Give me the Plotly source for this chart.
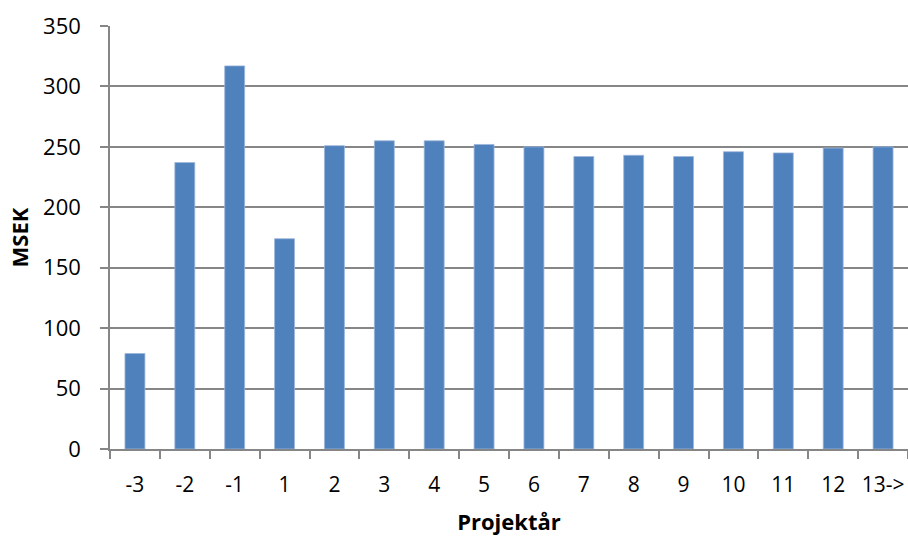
import plotly.graph_objects as go

# Project years and yearly amounts (MSEK)
years = ["-3", "-2", "-1", "1", "2", "3", "4", "5", "6", "7", "8", "9", "10", "11", "12", "13->"]
msek = [79, 237, 317, 174, 251, 255, 255, 252, 250, 242, 243, 242, 246, 245, 249, 250]

y_ticks = [0, 50, 100, 150, 200, 250, 300, 350]

FONT = "Open Sans"
GRID = "#868686"

fig = go.Figure(
    go.Bar(
        x=years,
        y=msek,
        marker=dict(color="#4F81BD", line=dict(color="#9db6dc", width=0.8)),
    )
)

fig.update_layout(
    width=908,
    height=536,
    margin=dict(l=110, r=0, t=26, b=87),
    paper_bgcolor="white",
    plot_bgcolor="white",
    bargap=0.6,
    showlegend=False,
    font=dict(family=FONT, size=22, color="#000000"),
)

fig.update_xaxes(
    type="category",
    showline=True,
    linecolor=GRID,
    linewidth=1.5,
    ticks="outside",
    tickson="boundaries",
    ticklen=8,
    tickcolor=GRID,
    tickwidth=1.5,
    showgrid=False,
    tickangle=0,
    ticklabelstandoff=16,
    tickfont=dict(family=FONT, size=21),
    title=dict(text="<b>Projektår</b>", font=dict(family=FONT, size=22), standoff=18),
)

fig.update_yaxes(
    range=[0, 350],
    tickvals=y_ticks,
    showline=True,
    linecolor=GRID,
    linewidth=1.5,
    ticks="outside",
    ticklen=8,
    tickcolor=GRID,
    tickwidth=1.5,
    showgrid=True,
    gridcolor=GRID,
    gridwidth=1.5,
    zeroline=False,
    ticklabelstandoff=15,
    tickfont=dict(family=FONT, size=22),
    title=dict(text="<b>MSEK</b>", font=dict(family=FONT, size=22), standoff=8),
)

fig.write_html("out.html")
